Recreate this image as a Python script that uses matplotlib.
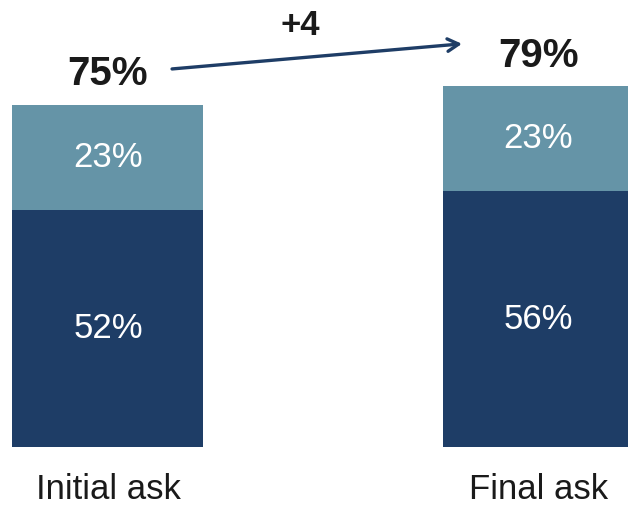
import matplotlib.pyplot as plt

plt.rcParams["font.family"] = ["Liberation Sans", "DejaVu Sans"]

categories = ["Initial ask", "Final ask"]
base_values = [52, 56]
top_values = [23, 23]
change_label = "+4"

DARK = "#1e3d66"
LIGHT = "#6594a7"

fig = plt.figure(figsize=(6.28, 5.09), dpi=100)
ax = fig.add_axes([0, 62 / 509, 1, 447 / 509])

x = [0, 1]
totals = [b + t for b, t in zip(base_values, top_values)]
ax.bar(x, base_values, width=0.444, color=DARK)
ax.bar(x, top_values, bottom=base_values, width=0.444, color=LIGHT)

ax.set_xlim(-0.251, 1.209)
ax.set_ylim(0, 97.9)

# segment labels
for xi, b, t in zip(x, base_values, top_values):
    ax.text(xi, b / 2, f"{b}%", ha="center", va="center", color="white", fontsize=25)
    ax.text(xi, b + t / 2, f"{t}%", ha="center", va="center", color="white", fontsize=25)

# totals above bars
for xi, tot in zip(x, totals):
    ax.annotate(f"{tot}%", xy=(xi, tot), xytext=(0, 14), textcoords="offset points",
                ha="center", va="baseline", fontsize=29, fontweight="bold", color="#1a1a1a")

# change arrow
start = (0.149, totals[0] + 7.8)
end = (0.823, totals[1] + 9.3)
ax.annotate("", xy=end, xytext=start,
            arrowprops=dict(arrowstyle="->,head_length=0.8,head_width=0.45",
                            color=DARK, lw=2.4, shrinkA=0, shrinkB=0))
ax.text(0.447, 92.3, change_label, ha="center", va="center",
        fontsize=25, fontweight="bold", color="#1a1a1a")

ax.set_xticks(x)
ax.set_xticklabels(categories, fontsize=25, color="#1a1a1a")
ax.tick_params(axis="x", length=0, pad=19)
ax.set_yticks([])
for s in ax.spines.values():
    s.set_visible(False)

fig.savefig("out.png", dpi=100)
